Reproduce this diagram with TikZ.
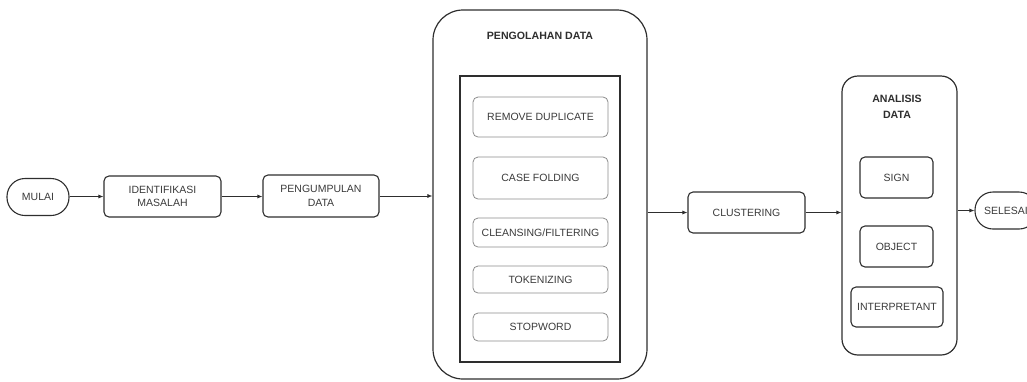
\documentclass[tikz,border=0pt]{standalone}
\usepackage{fontspec}
\setmainfont{Liberation Sans}
\usetikzlibrary{arrows.meta}
\definecolor{txt}{HTML}{3A3A3A}
\definecolor{dark}{HTML}{2E2E2E}
\definecolor{light}{HTML}{8C8C8C}
\tikzset{
  base/.style={draw=dark, line width=1.1pt, text=txt, align=center, inner sep=0pt,
    font=\fontsize{10.5}{13.5}\selectfont},
  procbox/.style={base, rounded corners=5pt},
  stadium/.style={base, rounded corners=18pt},
  subbox/.style={base, draw=light, line width=0.8pt, rounded corners=5pt},
  bigbox/.style={base, line width=1.2pt},
  titletext/.style={text=dark, align=center, font=\fontsize{10.6}{16}\selectfont\bfseries},
  flow/.style={draw=dark, line width=0.7pt, -{Latex[length=5pt,width=4pt]}}
}
\begin{document}
\begin{tikzpicture}[x=1pt,y=-1pt]
\useasboundingbox (0,0) rectangle (1027,381);
\clip (0,0) rectangle (1027,381);
% start / simple steps
\node[stadium, minimum width=62pt, minimum height=37pt] (mulai) at (38,197) {MULAI};
\node[procbox, minimum width=117pt, minimum height=41pt] (ident) at (162.5,196.5) {IDENTIFIKASI\\MASALAH};
\node[procbox, minimum width=116pt, minimum height=42pt] (kumpul) at (321,196) {PENGUMPULAN\\DATA};
% pengolahan data
\node[bigbox, rounded corners=30pt, minimum width=214pt, minimum height=369pt] (olah) at (540,194.5) {};
\node[titletext] (olaht) at (540,36) {PENGOLAHAN DATA};
\node[bigbox, line width=1.5pt, minimum width=160pt, minimum height=286pt] (inner) at (540,219) {};
\node[subbox, minimum width=135pt, minimum height=40pt] (rd) at (540.5,117) {REMOVE DUPLICATE};
\node[subbox, minimum width=135pt, minimum height=42pt] (cf) at (540.5,178) {CASE FOLDING};
\node[subbox, minimum width=135pt, minimum height=29pt] (cl) at (540.5,232.5) {CLEANSING/FILTERING};
\node[subbox, minimum width=135pt, minimum height=27pt] (tk) at (540.5,279.5) {TOKENIZING};
\node[subbox, minimum width=135pt, minimum height=28pt] (sw) at (540.5,327) {STOPWORD};
% clustering
\node[procbox, minimum width=117pt, minimum height=41pt] (clus) at (746.5,212.5) {CLUSTERING};
% analisis data
\node[bigbox, rounded corners=16pt, minimum width=115pt, minimum height=279pt] (anal) at (899.5,215.5) {};
\node[titletext] (analt) at (897,107) {ANALISIS\\DATA};
\node[procbox, minimum width=73pt, minimum height=41pt] (sign) at (896.5,177.5) {SIGN};
\node[procbox, minimum width=73pt, minimum height=41pt] (obj) at (896.5,246.5) {OBJECT};
\node[procbox, minimum width=92pt, minimum height=40pt] (interp) at (897,307) {INTERPRETANT};
% end
\node[stadium, minimum width=62pt, minimum height=37pt] (selesai) at (1006,210.5) {SELESAI};
% connectors
\draw[flow] (mulai.east |- ident.west) -- (ident.west);
\draw[flow] (ident.east) -- (ident.east -| kumpul.west);
\draw[flow] (kumpul.east) -- (kumpul.east -| olah.west);
\draw[flow] (clus.west -| olah.east) -- (clus.west);
\draw[flow] (clus.east) -- (clus.east -| anal.west);
\draw[flow] (selesai.west -| anal.east) -- (selesai.west);
\end{tikzpicture}
\end{document}
